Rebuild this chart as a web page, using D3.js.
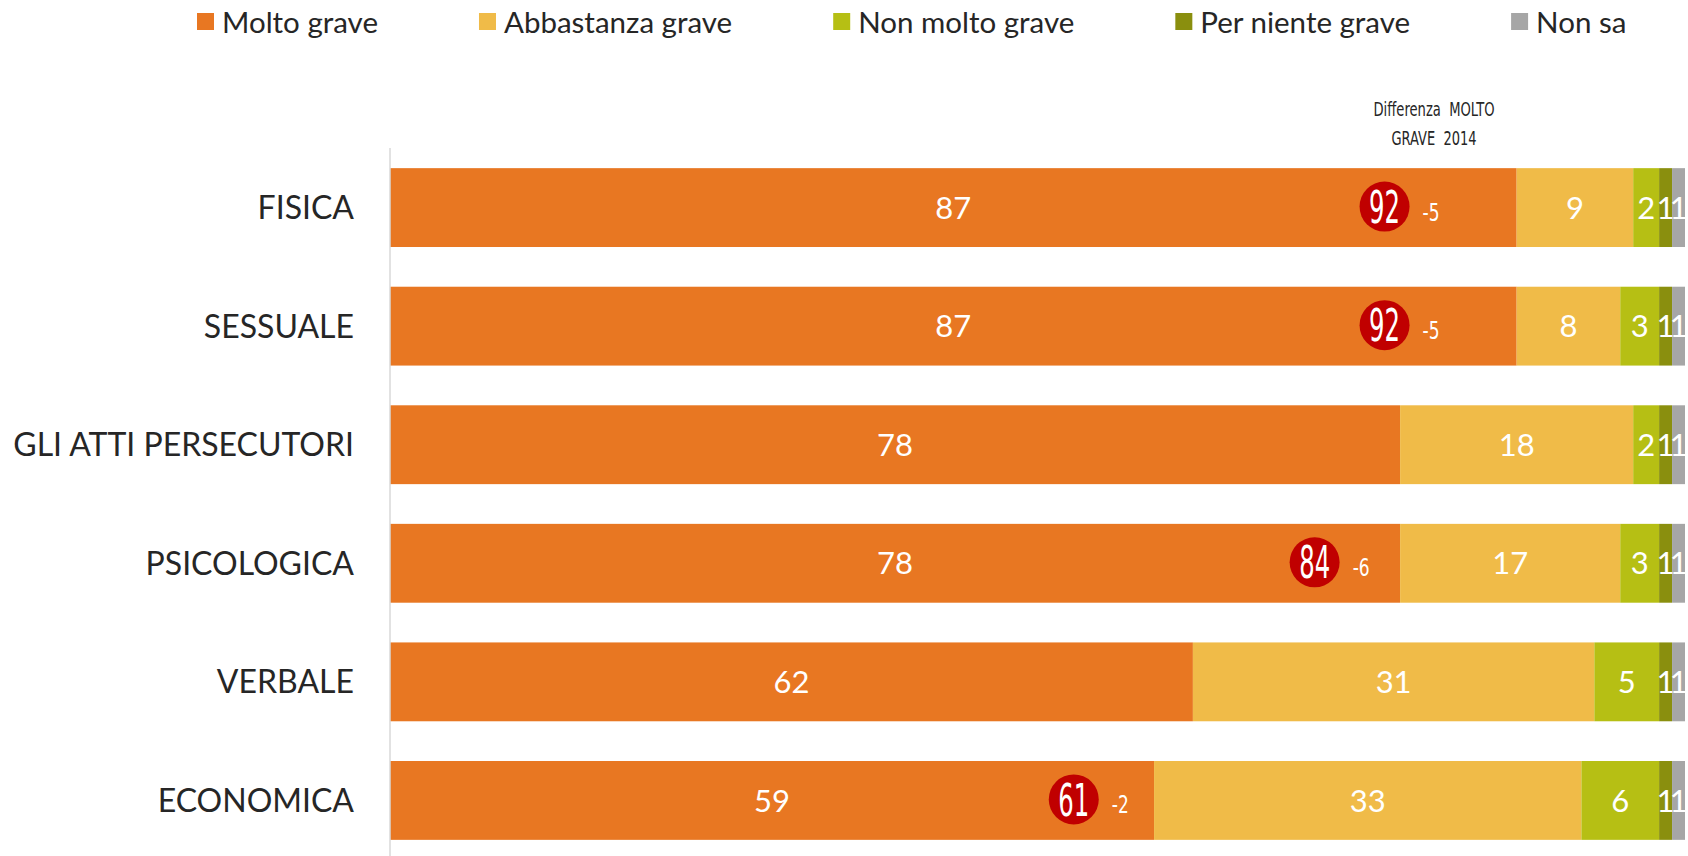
<!DOCTYPE html>
<html>
<head>
<meta charset="utf-8">
<script src="https://cdn.jsdelivr.net/npm/d3@7"></script>
<style>
  body { margin: 0; background: #fff; }
  svg { display: block; }
</style>
</head>
<body>
<script>
// --- Data ---
const categories = ["FISICA", "SESSUALE", "GLI ATTI PERSECUTORI", "PSICOLOGICA", "VERBALE", "ECONOMICA"];
const seriesNames = ["Molto grave", "Abbastanza grave", "Non molto grave", "Per niente grave", "Non sa"];
const moltoGrave = [87, 87, 78, 78, 62, 59];
const abbastanzaGrave = [9, 8, 18, 17, 31, 33];
const nonMoltoGrave = [2, 3, 2, 3, 5, 6];
const perNienteGrave = [1, 1, 1, 1, 1, 1];
const nonSa = [1, 1, 1, 1, 1, 1];
// 2014 "molto grave" values and the difference with today
const molto2014 = [92, 92, null, 84, null, 61];
const diff2014 = [-5, -5, null, -6, null, -2];
// where the 2014 badge sits along the bar (same % units as the x axis)
const badgeAt = [76.8, 76.8, null, 71.4, null, 52.8];
const colors = ["#E87722", "#F0BB48", "#B6BF14", "#8A8F0E", "#A6A6A6"];

const width = 1688, height = 856;

// build the rows for d3.stack
const rows = categories.map((c, i) => ({
  cat: c,
  "Molto grave": moltoGrave[i],
  "Abbastanza grave": abbastanzaGrave[i],
  "Non molto grave": nonMoltoGrave[i],
  "Per niente grave": perNienteGrave[i],
  "Non sa": nonSa[i]
}));

const stacked = d3.stack().keys(seriesNames)(rows);

const x = d3.scaleLinear().domain([0, 100]).range([390, 1685]);
const y = d3.scaleBand().domain(categories).range([148, 860]).paddingInner(0.335).paddingOuter(0.17);
const color = d3.scaleOrdinal().domain(seriesNames).range(colors);

const svg = d3.select("body").append("svg")
  .attr("width", width)
  .attr("height", height);

// --- Bars ---
const layer = svg.append("g")
  .selectAll("g")
  .data(stacked)
  .join("g")
  .attr("fill", d => color(d.key));

layer.selectAll("rect")
  .data(d => d)
  .join("rect")
  .attr("x", d => x(d[0]))
  .attr("y", d => y(d.data.cat))
  .attr("width", d => x(d[1]) - x(d[0]))
  .attr("height", y.bandwidth());

// --- Value labels inside the segments ---
svg.append("g")
  .attr("font-family", "Lato, 'Open Sans', sans-serif")
  .attr("font-size", 31)
  .attr("fill", "#fff")
  .attr("text-anchor", "middle")
  .selectAll("g")
  .data(stacked)
  .join("g")
  .selectAll("text")
  .data(d => d)
  .join("text")
  .attr("x", d => (x(d[0]) + x(d[1])) / 2)
  .attr("y", d => y(d.data.cat) + y.bandwidth() / 2)
  .attr("dy", "0.36em")
  .text(d => d[1] - d[0]);

// --- Category axis (labels + vertical line) ---
svg.append("line")
  .attr("x1", x(0)).attr("x2", x(0))
  .attr("y1", 148).attr("y2", height)
  .attr("stroke", "#d9d9d9")
  .attr("stroke-width", 1.5);

svg.append("g")
  .attr("font-family", "Lato, 'Open Sans', sans-serif")
  .attr("font-size", 32)
  .attr("fill", "#262626")
  .attr("text-anchor", "end")
  .selectAll("text")
  .data(categories)
  .join("text")
  .attr("x", x(0) - 36)
  .attr("y", d => y(d) + y.bandwidth() / 2)
  .attr("dy", "0.36em")
  .text(d => d);

// --- 2014 badges ---
const badges = categories.map((c, i) => ({ cat: c, v: molto2014[i], diff: diff2014[i], at: badgeAt[i] }))
  .filter(d => d.v != null);

const badge = svg.append("g")
  .selectAll("g")
  .data(badges)
  .join("g")
  .attr("transform", d => `translate(${x(d.at)},${y(d.cat) + y.bandwidth() / 2 - 1})`);

badge.append("circle")
  .attr("r", 25)
  .attr("fill", "#C00000");

badge.append("text")
  .attr("text-anchor", "middle")
  .attr("dy", "0.36em")
  .attr("font-family", "'Liberation Sans Narrow', 'DejaVu Sans Condensed', sans-serif")
  .attr("font-size", 45)
  .attr("fill", "#fff")
  .attr("textLength", 31)
  .attr("lengthAdjust", "spacingAndGlyphs")
  .text(d => d.v);

badge.append("text")
  .attr("x", 38)
  .attr("y", 5)
  .attr("dy", "0.36em")
  .attr("font-family", "'Liberation Sans Narrow', 'DejaVu Sans Condensed', sans-serif")
  .attr("font-size", 25)
  .attr("fill", "#fff")
  .attr("textLength", 17)
  .attr("lengthAdjust", "spacingAndGlyphs")
  .text(d => d.diff);

// --- Column header ---
const header = [
  { text: "Differenza  MOLTO", len: 121 },
  { text: "GRAVE  2014", len: 85 }
];
svg.append("g")
  .attr("font-family", "'Liberation Sans Narrow', 'DejaVu Sans Condensed', sans-serif")
  .attr("font-size", 20)
  .attr("fill", "#262626")
  .attr("text-anchor", "middle")
  .selectAll("text")
  .data(header)
  .join("text")
  .attr("x", 1434)
  .attr("y", (d, i) => 116 + i * 29)
  .attr("textLength", d => d.len)
  .attr("lengthAdjust", "spacingAndGlyphs")
  .style("white-space", "pre")
  .text(d => d.text);

// --- Legend ---
const legend = svg.append("g")
  .attr("font-family", "Lato, 'Open Sans', sans-serif")
  .attr("font-size", 29.5)
  .attr("fill", "#262626");

let lx = 197;
seriesNames.forEach(name => {
  const g = legend.append("g").attr("transform", `translate(${lx},22)`);
  g.append("rect")
    .attr("x", 0).attr("y", -9)
    .attr("width", 17).attr("height", 17)
    .attr("fill", color(name));
  const t = g.append("text")
    .attr("x", 25)
    .attr("dy", "0.36em")
    .text(name);
  lx += 25 + t.node().getComputedTextLength() + 101;
});
</script>
</body>
</html>
